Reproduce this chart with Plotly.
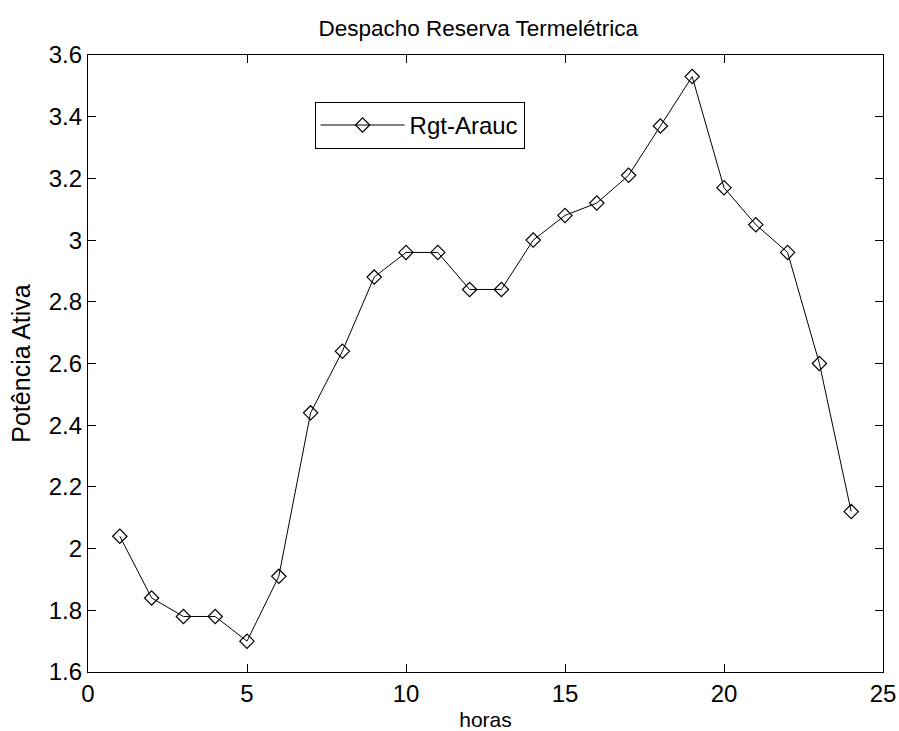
import plotly.graph_objects as go

horas = list(range(1, 25))
potencia = [2.04, 1.84, 1.78, 1.78, 1.70, 1.91, 2.44, 2.64, 2.88, 2.96, 2.96, 2.84,
            2.84, 3.00, 3.08, 3.12, 3.21, 3.37, 3.53, 3.17, 3.05, 2.96, 2.60, 2.12]
serie_nome = "Rgt-Arauc"
titulo = "Despacho Reserva Termelétrica"
x_ticks = [0, 5, 10, 15, 20, 25]
y_ticks = [1.6, 1.8, 2.0, 2.2, 2.4, 2.6, 2.8, 3.0, 3.2, 3.4, 3.6]
y_ticklabels = ["1.6", "1.8", "2", "2.2", "2.4", "2.6", "2.8", "3", "3.2", "3.4", "3.6"]

FONT = "Liberation Sans, Arial, sans-serif"

fig = go.Figure()
fig.add_trace(go.Scatter(
    x=horas, y=potencia, name=serie_nome, mode="lines+markers",
    line=dict(color="black", width=1),
    marker=dict(symbol="diamond-open", size=11, color="black", line=dict(width=1.2, color="black")),
))

axis_common = dict(
    showline=True, linecolor="black", linewidth=1.3, mirror="allticks",
    ticks="inside", ticklen=8, tickwidth=1, tickcolor="black",
    showgrid=False, zeroline=False, automargin=False,
    tickfont=dict(family=FONT, size=24, color="black"),
)

fig.update_xaxes(range=[0, 25], tickvals=x_ticks, **axis_common,
                 title=dict(text="horas", font=dict(family=FONT, size=21, color="black"), standoff=14))
fig.update_yaxes(range=[1.6, 3.6], tickvals=y_ticks, ticktext=y_ticklabels, **axis_common,
                 title=dict(text="Potência Ativa", font=dict(family=FONT, size=25, color="black"), standoff=10))

fig.update_layout(
    template="none",
    width=899, height=731,
    margin=dict(l=88, r=16, t=55, b=59, autoexpand=False),
    paper_bgcolor="white", plot_bgcolor="white",
    title=dict(text=titulo, x=0.532, xanchor="center", y=0.9617, yanchor="middle",
               font=dict(family=FONT, size=22.5, color="black")),
    showlegend=True,
    legend=dict(x=0.285, y=0.924, xanchor="left", yanchor="top",
                bordercolor="black", borderwidth=1, bgcolor="white",
                font=dict(family=FONT, size=24, color="black"),
                itemwidth=84, tracegroupgap=0),
)

fig.write_html("out.html")
